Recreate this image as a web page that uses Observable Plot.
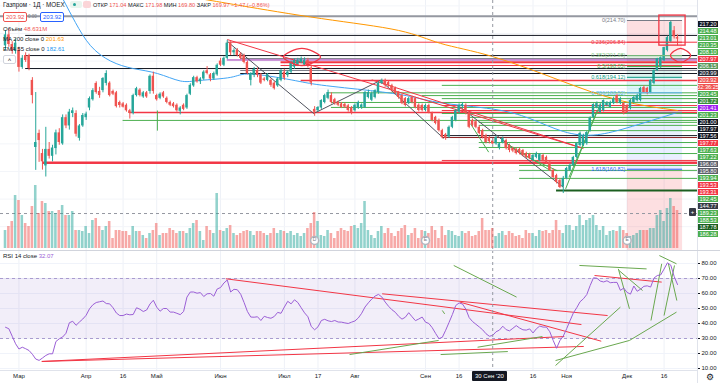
<!DOCTYPE html>
<html><head><meta charset="utf-8">
<script src="https://cdn.jsdelivr.net/npm/d3@7"></script>
<script src="https://cdn.jsdelivr.net/npm/@observablehq/plot@0.6"></script>
<style>
body{margin:0;background:#fff;font-family:"Liberation Sans",Arial,sans-serif;}
#wrap{position:relative;width:720px;height:383px;overflow:hidden;background:#fff;}
#wrap svg{position:absolute;}
.h{position:absolute;white-space:nowrap;font-size:6px;line-height:8px;color:#131722;}
.r{color:#ef5350}
</style></head><body><div id="wrap"></div>
<script>
// ---------- data ----------
const open=[205.5,209.5,206,203.5,204,197.7,202,202,193,168.7,
173.8,166.5,162,168,165.5,168.3,174,170,179.5,176.5,
181,181,172,176.5,179.5,183,186,191.9,189,189.3,
191.9,192,189,188.5,185,184.5,184,182,181,187.5,
189.5,187,188.5,189,194.5,187.5,186.5,188.5,186.5,185,
184.5,184,181.8,184,183,188,191,194,192.5,193.5,
196.5,195,193.5,195,200,198.5,201,206.5,203,204,
202.5,202,199.5,193,194.8,196.6,195,193.5,193,193,
192,191,193,196,194.8,196,197.8,198.5,199.5,198.5,
200.2,197.5,182.5,182,183,185,186.5,187.5,186,185,
184.5,184.3,183.8,183,182,183,183.2,183.2,186.8,185.8,
186.8,188.6,191.9,193,192.2,191.1,190.1,188.6,187.5,186.4,
184.6,186.8,186.4,184,183.9,182.1,183.9,181,179.6,178.5,
174.8,173.3,172.5,176,178.5,181.5,183.5,184,181,178.5,
178,176,174.8,173,172.3,171.04,170,168.5,170.5,171.2,
169.4,168.3,168,168,167.6,166.5,166.2,164,165.1,164,
165.8,165.1,163.3,160.4,158.5,156.7,154.5,157.5,160.4,162.2,
165.1,169.4,169.4,170.1,174.8,179.6,183.2,181.4,182.1,183.9,
183.2,184.6,187.5,184.6,184.6,183.9,182.8,185,185.7,185.7,
190.4,190.1,188.6,191.9,196.6,197.7,200.2,203.8,207,211,
208.5];
const high=[211,211.5,207,208,205,202,203,202.5,194,188.6,
175,168,176,170.5,169.5,175,175.5,180.5,180.5,182.5,
183,182,177,181,181.5,187,190,192.5,190.5,194,
196.5,192.5,189.5,189,185.5,185,184.5,182.5,188,190.5,
190,189,189,195,196,188,188.5,189,187,185.5,
185,184.5,183.5,184.5,188,191.8,194.5,194.5,194,196.5,
198,195.5,196,199,201,201.5,207.5,207,204.5,204.5,
203,202.5,200,195.8,197.7,197.5,195.5,194,195.5,193.5,
192.5,194,197,197,196.5,200,200.8,201,201.5,201.2,
201,198.5,183.5,183.5,186,188,189.5,188.5,186.5,185.5,
185,184.8,184.3,183.5,184.5,185.5,184.5,189,189.5,188.8,
189.6,192.5,193.5,193.5,192.8,191.6,190.6,189,188,186.8,
186.9,187.3,186.9,184.5,184.4,184.4,184.4,181.5,180,179,
175.3,173.8,176.5,180,182.5,184.5,185,184.5,181.5,179,
178.5,176.5,175.3,173.5,172.8,171.98,172.8,170.5,172.5,171.7,
169.9,168.8,168.5,168.5,168,167,166.6,166.2,167,166.5,
166.3,165.6,163.8,160.9,159,157.2,158.2,161.5,162.8,165.5,
170.5,174.3,173.5,174.5,179.8,184.5,185.2,184.6,185.9,185.3,
185.5,186.9,188,186.9,185,184.3,186.2,187.3,188,190.5,
191,190.5,193.2,196.8,201,201.5,205,209,214.7,212.5,
209.5];
const low=[204,205,202.5,202.5,196,197,199.5,196.5,184.5,160.4,
163.3,160.5,158,164.5,163.5,166,169.5,169.5,175.5,175,
179.5,172.5,171,176,178.5,182,185.5,188,186.5,188.5,
191,187,187.5,183,183,183,181.5,179,180.5,187,
187,186.5,186.5,188,188,185.5,186,186.5,184.5,183.5,
183,181.5,180.5,182,182.5,187.5,190.5,192,191.5,193,
195,192.5,193,194.5,198,198,200.5,202,202,201.5,
200.5,199,195,191,194,194,191.5,192.5,192.5,190.5,
189.5,190.5,192.5,193,194,195.5,197,198,199,198,
197.5,191,180,181.5,182.5,184.5,186,184.5,184,183.5,
182.8,182.8,181.5,180.5,181.5,182.5,182.5,182.8,186.3,185.3,
186.3,188,191.5,190.5,190.5,188.8,187.8,186.2,184.2,183.4,
184.2,184.5,182.7,181.6,181.6,181.6,180.9,178,176.9,174.3,
171.8,171.3,172,175.5,178,181,182.8,180.5,175.5,176,
175.5,173.3,171.8,170,170,169.8,169.5,167.8,170,167.8,
166.8,166.8,166,166,165.3,164.6,164.3,163.5,164.6,163.5,
163.5,162.8,160,157.5,155.5,153.8,152,157,160,161.8,
164.6,168.8,169,169.5,174.3,179.2,182.7,181,181.6,183.4,
182.8,184.2,184.5,184.2,180.5,181,182.3,184.5,185.2,185.2,
188.3,187.8,188.2,191.4,196.2,197.2,199.8,203.3,206.5,208,
205.5];
const close=[209.5,206,203.5,206.5,197.7,201,200.2,197.3,187.5,170.5,
171.2,163.5,168,165.5,168.5,174,170.5,179.5,176.5,181.5,
182,173.5,176.5,180.3,180.8,186.4,189.3,188.6,187.5,193.7,
195.5,187.5,188,183.5,183.9,183.3,182,181,187.5,190,
187.5,188.5,187,194.5,189,186,188,187,185,184,
183.5,182,183,182.5,187.5,191.2,194,192.5,193.5,196,
195.5,193.5,195.5,198.5,198.5,201,206.5,203,203.8,202,
201,199.5,195.5,195.5,197,194.8,192,193,195,191.2,
190,193.5,196.5,193.8,196,199.5,200.2,200.3,200.7,200.3,
198.5,192,181.5,183.2,185.7,187.5,188.6,185,184.6,184,
183.2,183.3,182.1,181.4,184,185,184.1,188.6,188.6,188.2,
189.3,192,193,191.1,191.1,189.3,188.3,186.8,184.6,183.9,
186.4,185,183.2,182.1,182.1,183.9,181.4,178.5,177.4,174.8,
172.3,172,176,179.6,182,183.9,184.3,181,176,176.7,
176,173.8,172.3,170.5,170.8,169.97,172.3,170,172,168.3,
167.6,167.4,166.5,166.6,165.8,165.1,164.7,165.8,166.5,166.1,
164,163.3,160.4,157.8,156,154.2,157.5,161.1,162.2,165.1,
170.1,173.8,173,174.1,179.3,184.3,184.6,184,185.7,184.8,
185,186.4,185,186.4,181,181.4,185.7,186.8,187.5,190.1,
188.6,188.3,193,196.6,200.9,201.2,204.9,208.5,214,208.8,
207.97];
const volume=[18,22,27,53,48,33,25,22,42,63,35,47,45,37,37,35,38,43,33,33,
37,18,18,17,22,15,28,30,22,18,22,27,10,18,18,17,17,13,22,17,
17,13,10,15,18,25,13,15,15,20,18,15,17,17,15,20,25,28,17,8,
22,18,15,55,18,17,20,23,
15,13,15,17,18,17,13,17,17,15,13,15,20,15,18,17,15,17,13,15,
12,15,20,25,36,27,13,12,18,15,10,17,20,18,17,22,23,20,25,47,
18,13,10,17,22,15,20,15,12,17,20,23,13,15,20,10,18,17,15,22,
18,10,22,13,18,17,
13,12,17,15,17,12,13,17,30,18,18,20,12,15,17,13,17,15,12,13,
10,18,15,15,12,18,17,18,15,18,28,18,15,23,23,18,22,33,23,28,
30,33,23,18,22,13,17,18,17,22,18,15,12,13,15,18,18,18,20,20,
33,38,27,40,50,42,38];
const rsi=[37.5,36.5,31.5,26.5,23,24.2,23.2,22,19.5,16.3,
15.4,17,18.7,19.8,19.8,28,29.8,31,33.5,40.5,
41.5,38.8,41,43,45.5,49.8,52.5,54,54.5,55,
53.3,53.1,50.5,47,45.3,45.3,46.3,45.8,46,50.5,
49.5,48,49,53,55.5,50.9,48.2,50,50,47.6,
47.6,46.8,45.9,48,57.6,61,61,60.2,60.6,58,
59.8,60,58.2,63,64,67,69,61,62.8,62.5,
59.5,54,48,44.3,44.2,44.5,42,44.8,44,43.5,
44.7,47.4,46.8,51,54.8,53.1,55.8,54,50.5,47.1,
44.5,38,35.8,37.8,42,42.8,41.8,41.3,42,41,
40.9,40.4,40,40.9,41.7,43.7,46.8,51,53.8,56.3,
58.3,59.4,57.7,54.3,51.5,49.2,47.5,44.8,42.9,44.2,
47.2,44.5,41.9,43,44.3,40.9,40,37.2,33.4,29.9,
30.8,35.5,40.7,46,52,53.7,53,49.6,43.9,41.3,
39.5,37.7,35.8,33.2,31.5,32.07,34.5,35.6,38.2,35.9,
35.1,36.8,38.6,37,35.8,35.6,36.4,33.7,36.5,38.3,
37.6,37.6,34.5,28.7,23.5,28.6,31.6,36.5,41.8,47,
50.5,54.5,56.5,59.3,65.3,70.5,70.2,68.3,67.7,68.5,
67.2,67.4,67.4,62.1,63.6,60.7,59.6,65,61.5,62.9,
64.8,65.1,64.3,70.3,72,72.4,76.3,80.5,78.9,71.4,
66];
const maIdx=[58,70,94,117,129.5,145,165,183,200];
const maVal=[222.6,220.1,215.4,211.1,206.4,201.63,193.0,185.7,182.1];
const emaIdx=[17.3,20.8,25.3,31.3,38,45.2,52,58,67,73,85,94,108.6,120.5,130,145,156,166,175,185,200];
const emaVal=[222,214,205.6,200.0,197.3,195.5,192.8,193.0,194.1,195.3,193.2,191.3,189.3,187.2,184.8,182.61,179.2,174.5,173.2,175.8,181.4];
const tickIdx=[4,24,35,45,64,83,93,104,125,135,157,167,185,196];
const tickLab=["Мар","Апр","16","Май","Июн","Июл","17","Авг","Сен","16","16","Ноя","Дек","16"];
const rsiTicks=[10,20,30,40,50,60,70,80];
const rsiBand=[30,70];
const priceGrid=[140,150,160,170,180,190,200,210,220];
// horizontal drawn levels
const hlPrice=[216.2,209.3,206.84,202.0,200.9,200.4,199.6,198.4,197.3,196.6,195.5,193.0,191.2,188.5,187.5,186.4,185.0,183.9,183.2,182.1,181.4,181.0,179.6,178.5,177.8,176.7,174.8,173.0,172.3,170.5,168.7,166.5,164.0,163.3,162.9,162.2,160.4,157.5,153.1];
const hlColor=["#9598a1","#131722","#f23645","#131722","#787b86","#9c27b0","#f23645","#f23645","#131722","#787b86","#131722","#f23645","#4caf50","#4caf50","#4caf50","#4caf50","#4caf50","#f23645","#4caf50","#f23645","#f23645","#4caf50","#4caf50","#4caf50","#4caf50","#4caf50","#4caf50","#131722","#8b1e1e","#4caf50","#4caf50","#4caf50","#f23645","#f23645","#f23645","#4caf50","#4caf50","#4caf50","#1b5e20"];
const hlFrom=[-1.5,6,66,6,70,66,82,82,6,70,70,88,130,96,124,130,97,130,97,130,37,130,138,35,141,141,141,130,130,141,141,153,130,11,11,153,153,153,164];
const hlWidth=[2,1,1,1,1,1,2,1,1,1,1,1.5,1,1,1,1,1,1,1,1,1.5,1,1,1,1,1,1,1,1,1,1,1,1,1.5,1,1,1,1,2];
// price-pane trend lines
const segX1=[66.4,91.7,111.6,135.4,66,109,138.4,149.3,155.3,166.7,167.7,45.2];
const segY1=[206.7,181.0,193.0,183.3,207.8,193.2,177.3,170,165.2,153.7,157.9,182.1];
const segX2=[91.7,111.6,130.4,166,172,171.1,143.8,162.2,164.2,176.1,177.1,45.2];
const segY2=[181.0,193.0,172.0,154.3,168.3,168.7,167.0,160.3,160.3,182.1,184.5,174.8];
const segColor=["#50535e","#50535e","#50535e","#50535e","#f23645","#f23645","#4caf50","#4caf50","#4caf50","#4caf50","#4caf50","#4caf50"];
// RSI-pane trend lines
const rX1=[10.8,10.8,65.6,112.1,135.3,175.3,133.4,102.4,129.5,140.5,163.7,163.7,185.7,170.8,182.4,182.6,192.1,196,197.3,194.6,130];
const rY1=[14.7,14.7,69.8,59.8,54.2,72,78.7,19.3,19.3,24.2,12,15.3,28.7,78.7,76.4,75.3,42,45.3,79.8,85.3,48.7];
const rX2=[166.3,172.1,171.4,179.2,177.3,195.3,152.1,128.9,149.5,159.8,183,185.7,199.7,190.8,185.7,189.6,195.3,199.1,199.8,199.7,130.7];
const rY2=[31.3,24.7,39.3,45.3,28.2,67.6,57.6,28.7,21.3,31.3,50.9,28.7,47.6,76.4,49.8,62,79.8,78.7,55.3,79.8,46.4];
const rColor=["#f23645","#f23645","#f23645","#f23645","#f23645","#f23645","#6aa84f","#6aa84f","#6aa84f","#6aa84f","#6aa84f","#6aa84f","#6aa84f","#6aa84f","#6aa84f","#6aa84f","#6aa84f","#6aa84f","#6aa84f","#6aa84f","#6aa84f"];
// fibonacci retracement
const fibLevel=[0,0.236,0.382,0.5,0.618,0.786,1,1.618,2.618];
const fibPrice=[214.70,206.84,201.98,198.05,194.12,188.52,181.40,160.82,127.52];
const fibColor=["#787b86","#f23645","#81c784","#4caf50","#089981","#64b5f6","#787b86","#2962ff","#f23645"];
const fibFill=["rgba(242,54,69,0.16)","rgba(242,54,69,0.10)","rgba(76,175,80,0.16)","rgba(8,153,129,0.14)","rgba(0,188,212,0.13)","rgba(100,181,246,0.16)","rgba(41,98,255,0.10)","rgba(242,54,69,0.16)"];
const fibFrom=185.1, fibTo=201.5;
// annotations
const boxX=[194.6,202.4], boxY=[205.6,216.5];
const ellId=[0,0,0,0,1,1,1,1];
const ellX=[82.7,88.2,93.75,88.2,197.9,200.9,203.9,200.9];
const ellY=[201.5,204.6,201.5,198.4,202.05,204.6,202.05,199.5];
const eventIdx=[92,125,185], eventType=["D","E","E"];
const crossIdx=145, crossPrice=144.77;
// right axis labels
const axLabel=["217.20","214.48","213.01","210.35","208.10","207.97","206.15","203.99","203.92","02:36:25","203.45","201.72","201.41","201.23","201.00","197.97","197.56","197.77","197.63","197.22","196.08","195.80","193.94","193.53","193.31","192.45","144.77","189.23","188.53","187.78","186.28"];
const axColor=["#131722","#4caf50","#4caf50","#4caf50","#4caf50","#f23645","#5b9a5e","#2a2e39","#ef5350","#ef5350","#4caf50","#388e3c","#a020f0","#4caf50","#131722","#131722","#131722","#f23645","#4caf50","#4caf50","#5d606b","#5d606b","#4caf50","#f23645","#f23645","#4caf50","#363a45","#4caf50","#4caf50","#1b5e20","#4caf50"];

// ---------- build ----------
const GREEN="#26a69a", RED="#ef5350";
const xDomain=[-1.49,205.95];
const N=close.length;
const bars=d3.range(N).map(i=>({i,o:open[i],h:high[i],l:low[i],c:close[i],v:volume[i],r:rsi[i],up:close[i]>=open[i]}));
const hl=hlPrice.map((p,k)=>({p,color:hlColor[k],from:hlFrom[k],w:hlWidth[k]}));
const segs=segX1.map((x,k)=>({x1:x,y1:segY1[k],x2:segX2[k],y2:segY2[k],c:segColor[k]}));
const rsegs=rX1.map((x,k)=>({x1:x,y1:rY1[k],x2:rX2[k],y2:rY2[k],c:rColor[k]}));
const fib=fibLevel.map((l,k)=>({l,p:fibPrice[k],c:fibColor[k]}));
const fibBands=fibFill.map((f,k)=>({a:fibPrice[k],b:fibPrice[k+1],f}));
const fibShown=fib.filter(d=>d.l!==1&&d.l!==2.618);
const ma=maIdx.map((x,k)=>({x,y:maVal[k]}));
const ema=emaIdx.map((x,k)=>({x,y:emaVal[k]}));
const ell=ellX.map((x,k)=>({x,y:ellY[k],z:ellId[k]}));
const events=eventIdx.map((i,k)=>({i,t:eventType[k]}));
const tickMap=new Map(tickIdx.map((d,k)=>[d,tickLab[k]]));
const FONT="Liberation Sans, Arial, sans-serif";
const baseStyle={background:"transparent",fontFamily:FONT,fontSize:"6px",color:"#131722",overflow:"visible"};

const pricePlot=Plot.plot({
  width:720,height:250,marginLeft:0,marginRight:23,marginTop:0,marginBottom:0,
  x:{domain:xDomain,axis:null},y:{domain:[131.37,221.95],axis:null},
  style:baseStyle,
  marks:[
    Plot.ruleX(tickIdx,{stroke:"#eef1f7"}),
    Plot.ruleY(priceGrid,{stroke:"#f3f5f9"}),
    Plot.rect(fibBands,{x1:fibFrom,x2:fibTo,y1:"a",y2:"b",fill:"f",clip:true}),
    Plot.ruleY(hl,{y:"p",x1:"from",x2:xDomain[1],stroke:"color",strokeWidth:"w"}),
    Plot.line(ma,{x:"x",y:"y",stroke:"#ff9800",strokeWidth:1,curve:"natural",clip:true}),
    Plot.line(ema,{x:"x",y:"y",stroke:"#42a5f5",strokeWidth:1,curve:"natural",clip:true}),
    Plot.link(segs,{x1:"x1",y1:"y1",x2:"x2",y2:"y2",stroke:"c",strokeWidth:1}),
    Plot.ruleX(bars,{x:"i",y1:"l",y2:"h",stroke:d=>d.up?GREEN:RED,strokeWidth:1}),
    Plot.rect(bars,{x1:d=>d.i-0.36,x2:d=>d.i+0.36,y1:"o",y2:"c",fill:d=>d.up?GREEN:RED}),
    Plot.ruleY(fib,{y:"p",x1:fibFrom,x2:fibTo,stroke:"c",strokeWidth:1,clip:true}),
    Plot.text(fibShown,{x:fibFrom,y:"p",text:d=>`${d.l}(${d.p.toFixed(2)})`,fill:"c",textAnchor:"end",dx:-2,fontSize:5.5}),
    Plot.rect([0],{x1:boxX[0],x2:boxX[1],y1:boxY[0],y2:boxY[1],stroke:"#f23645",strokeWidth:1.3,fill:"none"}),
    Plot.line(ell,{x:"x",y:"y",z:"z",stroke:"#f23645",strokeWidth:1.3,curve:"catmull-rom-closed"}),
    Plot.ruleX([crossIdx],{stroke:"#9598a1",strokeDasharray:"3,3"}),
    Plot.ruleY([crossPrice],{stroke:"#9598a1",strokeDasharray:"3,3"})
  ]
});
const volPlot=Plot.plot({
  width:720,height:250,marginLeft:0,marginRight:23,marginTop:0,marginBottom:2,
  x:{domain:xDomain,axis:null},y:{domain:[0,248],axis:null},
  style:baseStyle,
  marks:[
    Plot.rect(bars,{x1:d=>d.i-0.38,x2:d=>d.i+0.38,y1:0,y2:"v",fill:d=>d.up?"rgba(38,166,154,0.5)":"rgba(239,83,80,0.5)"}),
    Plot.dot(events,{x:"i",frameAnchor:"bottom",dy:-8,r:4,fill:"white",stroke:"#b2b5be"}),
    Plot.text(events,{x:"i",text:"t",frameAnchor:"bottom",dy:-8,fontSize:5,fill:"#787b86"})
  ]
});
const rsiPlot=Plot.plot({
  width:720,height:133,marginLeft:0,marginRight:23,marginTop:0,marginBottom:13,
  x:{domain:xDomain},y:{domain:[8.67,88.67]},
  style:baseStyle,
  marks:[
    Plot.ruleX(tickIdx,{stroke:"#eef1f7"}),
    Plot.ruleY(rsiTicks,{stroke:"#f0f3fa"}),
    Plot.rect([rsiBand],{x1:xDomain[0],x2:xDomain[1],y1:d=>d[0],y2:d=>d[1],fill:"rgba(126,87,194,0.1)"}),
    Plot.ruleY(rsiBand,{stroke:"#a99bcf",strokeDasharray:"3,3"}),
    Plot.link(rsegs,{x1:"x1",y1:"y1",x2:"x2",y2:"y2",stroke:"c",strokeWidth:1}),
    Plot.line(bars,{x:"i",y:"r",stroke:"#9b5fd6",strokeWidth:1}),
    Plot.ruleX([crossIdx],{stroke:"#9598a1",strokeDasharray:"3,3"}),
    Plot.axisY(rsiTicks,{anchor:"right",tickSize:2,tickPadding:2,tickFormat:d=>d.toFixed(2),fontSize:6,stroke:"#131722"}),
    Plot.axisX(tickIdx,{anchor:"bottom",tickSize:0,tickPadding:3,tickFormat:d=>tickMap.get(d),fontSize:6})
  ]
});
const labPlot=Plot.plot({
  width:21,height:250,marginLeft:0,marginRight:0,marginTop:13.3,marginBottom:5.2,
  x:{axis:null},y:{type:"band",domain:d3.range(axLabel.length),padding:0.1,axis:null},
  style:baseStyle,
  marks:[
    Plot.cell(axLabel.map((t,k)=>({k,t,c:axColor[k]})),{y:"k",fill:"c"}),
    Plot.text(axLabel.map((t,k)=>({k,t})),{y:"k",text:"t",fill:"white",fontSize:5.6})
  ]
});

const wrap=document.getElementById("wrap");
function place(el,l,t){el.style.left=l+"px";el.style.top=t+"px";wrap.appendChild(el);}
place(pricePlot,0,0);
place(volPlot,0,0);
place(rsiPlot,0,250);
place(labPlot,697,0);
function div(html,l,t,extra){const d=document.createElement("div");d.className="h";d.innerHTML=html;d.style.left=l+"px";d.style.top=t+"px";if(extra)d.setAttribute("style",d.getAttribute("style")+";"+extra);wrap.appendChild(d);return d;}
// separators
div("",697,0,"width:1px;height:383px;background:#e0e3eb");
div("",0,250,"width:720px;height:1px;background:#d1d4dc");
div("",0,370,"width:697px;height:1px;background:#e0e3eb");
// legend
div("Газпром · 1Д · MOEX",3,1,"font-size:6.3px");
div("",70,1,"width:12px;height:7px;background:#e8f5ee;border-radius:2px");
div("",73,3,"width:3px;height:3px;background:#26a69a;border-radius:2px");
div("",83,1,"width:8px;height:7px;background:#fbd5d8;border-radius:2px");
div('ОТКР <span class="r">171.04</span> МАКС <span class="r">171.98</span> МИН <span class="r">169.80</span> ЗАКР <span class="r">169.97</span> <span class="r">−1.47 (−0.86%)</span>',93,1,"font-size:5.6px");
div("203.92",3,12,"color:#ef5350;border:1px solid #ef5350;border-radius:2px;padding:0 2px;background:#fff");
div("0.00",28,13,"font-size:4.5px;color:#787b86");
div("203.92",40,12,"color:#2962ff;border:1px solid #2962ff;border-radius:2px;padding:0 2px;background:#fff");
div('Объём <span class="r">48.631M</span>',3,25);
div('MA 200 close 0 <span style="color:#ff9800">201.63</span>',3,35);
div('EMA 55 close 0 <span style="color:#2196f3">182.61</span>',3,45);
div("˄",3,55,"width:11px;height:7px;border:1px solid #d1d4dc;border-radius:2px;background:#fff;text-align:center;line-height:9px");
div('RSI 14 close <span style="color:#9b5fd6">32.07</span>',3,252);
// crosshair widgets
div("+",689,208,"width:7px;height:8px;background:#363a45;color:#fff;text-align:center;border-radius:1px");
div("30 Сен '20",472,371,"background:#131722;color:#fff;padding:1px 3px;border-radius:1px");
div("⚙",706,372,"font-size:9px;line-height:10px;color:#131722");
</script></body></html>
